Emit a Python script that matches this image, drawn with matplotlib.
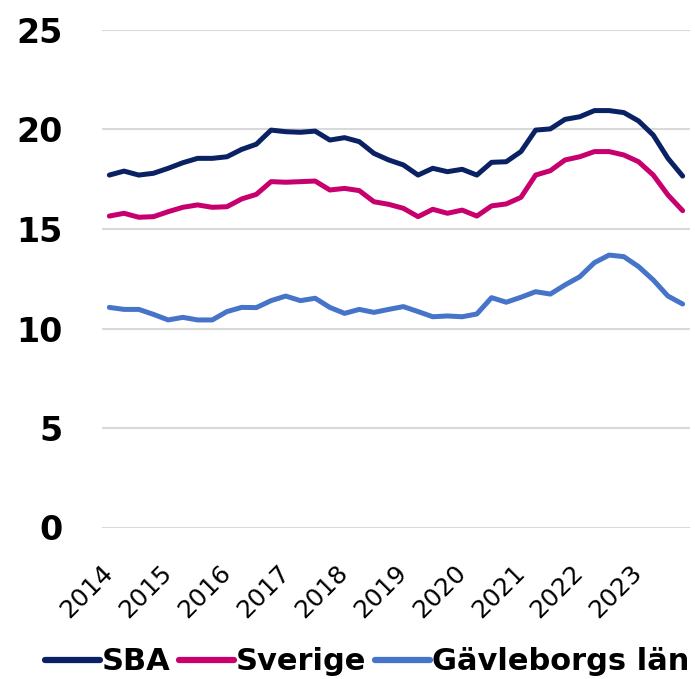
import matplotlib
matplotlib.use("Agg")
import matplotlib.pyplot as plt
import numpy as np

years = ["2014", "2015", "2016", "2017", "2018", "2019", "2020", "2021", "2022", "2023"]

sba = [17.71, 17.91, 17.71, 17.80, 18.05, 18.33, 18.55, 18.55, 18.63, 19.00,
       19.26, 19.97, 19.89, 19.86, 19.92, 19.47, 19.59, 19.39, 18.80, 18.47,
       18.22, 17.71, 18.05, 17.88, 18.00, 17.71, 18.35, 18.38, 18.89, 19.97,
       20.03, 20.51, 20.64, 20.95, 20.95, 20.85, 20.43, 19.72, 18.55, 17.66]

sverige = [15.65, 15.79, 15.59, 15.62, 15.87, 16.09, 16.21, 16.09, 16.12, 16.51,
           16.74, 17.38, 17.35, 17.38, 17.41, 16.96, 17.04, 16.93, 16.37, 16.24,
           16.04, 15.62, 15.99, 15.79, 15.95, 15.65, 16.16, 16.26, 16.59, 17.71,
           17.93, 18.47, 18.63, 18.89, 18.89, 18.72, 18.38, 17.71, 16.71, 15.92]

gavleborg = [11.06, 10.96, 10.96, 10.71, 10.43, 10.56, 10.43, 10.43, 10.85, 11.06,
             11.05, 11.40, 11.63, 11.40, 11.52, 11.06, 10.76, 10.96, 10.81, 10.96,
             11.10, 10.85, 10.59, 10.63, 10.59, 10.73, 11.55, 11.32, 11.57, 11.85,
             11.73, 12.19, 12.60, 13.31, 13.69, 13.61, 13.11, 12.44, 11.63, 11.23]

series_names = ["SBA", "Sverige", "Gävleborgs län"]
colors = ["#0A2263", "#C8006E", "#4674C8"]

fig = plt.figure(figsize=(6.95, 6.79), dpi=100)
ax = fig.add_axes([102/695, 1 - 527.5/679, (690-102)/695, (527.5-30)/679])

x = np.arange(len(sba))
for vals, name, c in zip([sba, sverige, gavleborg], series_names, colors):
    ax.plot(x, vals, color=c, lw=3.6, label=name, solid_joinstyle="round",
            solid_capstyle="round")

ax.set_xlim(-0.5, len(sba) - 0.5)
ax.set_ylim(0, 25)
ax.set_yticks([0, 5, 10, 15, 20, 25])
ax.yaxis.grid(True, color="#D9D9D9", lw=1.5)
ax.set_axisbelow(True)
for s in ax.spines.values():
    s.set_visible(False)
ax.tick_params(axis="y", length=0, pad=28)
ax.tick_params(axis="x", length=0, pad=30)
for lab in ax.get_yticklabels():
    lab.set_fontsize(24)
    lab.set_fontweight("bold")

ax.set_xticks(np.arange(0, len(sba), 4))
ax.set_xticklabels(years, rotation=45, ha="right", va="center",
                   rotation_mode="anchor", fontsize=18)

leg = fig.legend(loc="center", bbox_to_anchor=(367/695, 1 - 662/679), ncol=3,
                 frameon=False, handlelength=1.8, handletextpad=0.05,
                 columnspacing=0.3, prop={"weight": "bold", "size": 22})
for line in leg.get_lines():
    line.set_linewidth(4.5)

fig.savefig("out.png", dpi=100)
